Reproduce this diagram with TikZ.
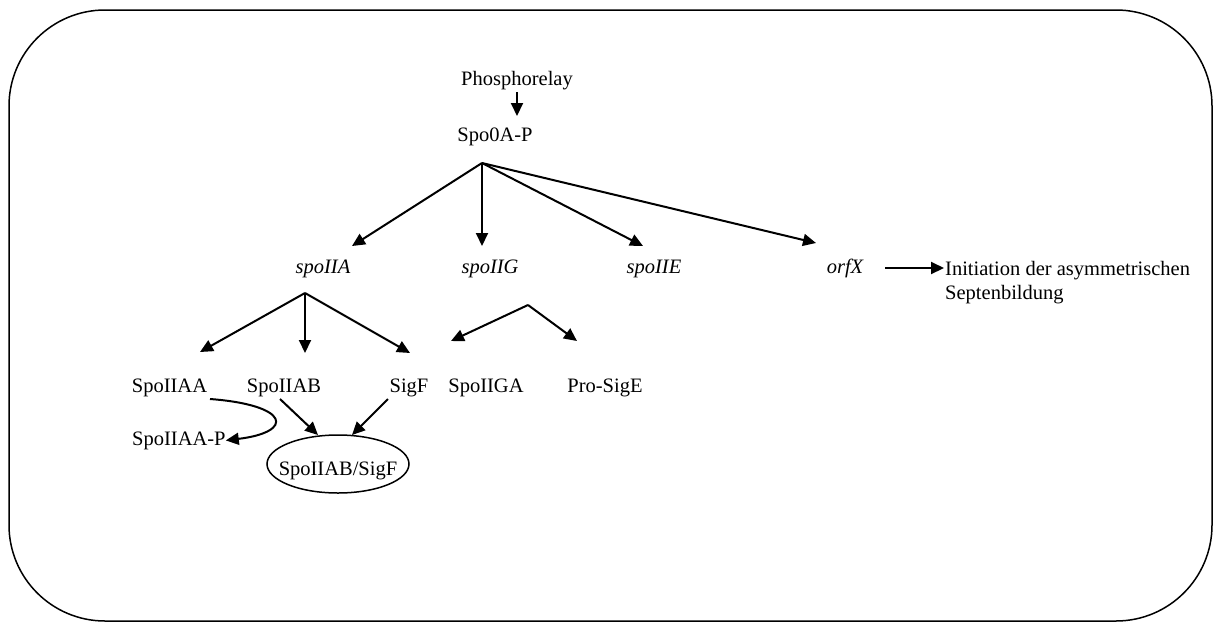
\documentclass[tikz,border=0pt]{standalone}
\usepackage{fontspec}
\setmainfont{Liberation Serif}
\usetikzlibrary{arrows.meta}
\begin{document}
\begin{tikzpicture}[x=1pt,y=-1pt,
  lbl/.style={inner sep=0pt,anchor=base,font=\fontsize{20.5}{24}\selectfont},
  gene/.style={lbl,font=\fontsize{20.5}{24}\selectfont\itshape},
  arr/.style={line width=2pt,-{Triangle[length=13pt,width=12pt]}},
  frame/.style={line width=1.5pt,rounded corners=96pt}]
\useasboundingbox (0,0) rectangle (1213,622);
\draw[frame] (9,10) rectangle (1212,621);

% top of the cascade
\node[lbl] (phos) at (517,85) {Phosphorelay};
\node[lbl] (spo0a) at (495,141) {Spo0A-P};
\coordinate (phosOut) at (517,92);
\coordinate (phosIn) at (517,116);
\draw[arr] (phosOut) -- (phosIn);

% Spo0A-P targets
\coordinate (b0) at (482,163);
\node[gene] (spoIIA) at (323,273) {spoIIA};
\node[gene] (spoIIG) at (490,273) {spoIIG};
\node[gene] (spoIIE) at (654,273) {spoIIE};
\node[gene] (orfX) at (845,273) {orfX};
\coordinate (tA) at (352,246);
\coordinate (tG) at (482,246);
\coordinate (tE) at (643,246);
\coordinate (tX) at (816,243);
\draw[arr] (b0) -- (tA);
\draw[arr] (b0) -- (tG);
\draw[arr] (b0) -- (tE);
\draw[arr] (b0) -- (tX);

% orfX output (base anchor sits on the last line)
\node[lbl,anchor=base west,align=left] (init) at (945,299)
  {Initiation der asymmetrischen\\Septenbildung};
\coordinate (xOut) at (885,268);
\coordinate (xIn) at (944,268);
\draw[arr] (xOut) -- (xIn);

% spoIIA operon products
\coordinate (b1) at (305,293);
\node[lbl] (aa) at (169.5,392) {SpoIIAA};
\node[lbl] (ab) at (284,392) {SpoIIAB};
\node[lbl] (sigf) at (409,392) {SigF};
\coordinate (t1) at (200,352);
\coordinate (t2) at (305,353);
\coordinate (t3) at (410,353);
\draw[arr] (b1) -- (t1);
\draw[arr] (b1) -- (t2);
\draw[arr] (b1) -- (t3);

% spoIIG operon products
\coordinate (b2) at (528,305);
\node[lbl] (ga) at (486,392) {SpoIIGA};
\node[lbl] (prosige) at (605,392) {Pro-SigE};
\coordinate (t4) at (451,341);
\coordinate (t5) at (577,341);
\draw[arr] (b2) -- (t4);
\draw[arr] (b2) -- (t5);

% phosphorylation of SpoIIAA
\node[lbl,anchor=base west] (aap) at (132,445) {SpoIIAA-P};
\coordinate (aaOut) at (210,399);
\draw[arr] (aaOut) .. controls (290,405) and (295,432) .. (aap.east);

% complex formation
\node[lbl] (cplx) at (338,475) {SpoIIAB/SigF};
\draw[line width=1.5pt] (338,464) ellipse [x radius=71, y radius=29];
\coordinate (abOut) at (280,399);
\coordinate (sfOut) at (388,399);
\coordinate (cIn1) at (318,435);
\coordinate (cIn2) at (352,435);
\draw[arr] (abOut) -- (cIn1);
\draw[arr] (sfOut) -- (cIn2);
\end{tikzpicture}
\end{document}
